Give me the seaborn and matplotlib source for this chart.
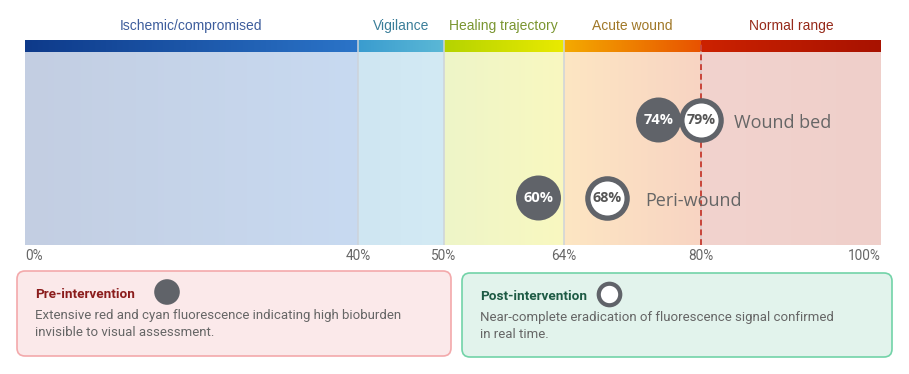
import numpy as np
import pandas as pd
import matplotlib
matplotlib.use("Agg")
import matplotlib.pyplot as plt
import matplotlib.transforms as mtransforms
from matplotlib.colors import to_rgb
from matplotlib.patches import FancyBboxPatch
import seaborn as sns

# --- data ---
zone_names = ["Ischemic/compromised", "Vigilance", "Healing trajectory", "Acute wound", "Normal range"]
zone_edges = [0, 40, 50, 64, 80, 100]
tick_values = [0, 40, 50, 64, 80, 100]
tick_labels = ["0%", "40%", "50%", "64%", "80%", "100%"]
regions = ["Wound bed", "Peri-wound"]
pre_values = [74, 60]
post_values = [79, 68]
threshold = 80

# --- style ---
bar_cols = [("#0e3a8a", "#2b74c8"), ("#3a9ccf", "#5bb8d6"), ("#b5d300", "#eaea00"),
            ("#f4aa00", "#e85200"), ("#cc2200", "#a81200")]
band_cols = [("#c3cee2", "#c8daf1"), ("#cfe6f2", "#d3eaf4"), ("#eef5c8", "#f9f8c0"),
             ("#fde6c2", "#f8d4c3"), ("#f2d3ce", "#efcfca")]
head_cols = ["#3d5d9c", "#3b7e99", "#7a9530", "#a07828", "#962a1a"]
grey = "#606369"
W, H = 909, 374

sns.set_theme(style="white")
plt.rcParams["font.family"] = ["Liberation Sans", "DejaVu Sans"]

fig = plt.figure(figsize=(W / 100, H / 100), dpi=100)

# overlay axes in pixel coords for the boxes
ov = fig.add_axes([0, 0, 1, 1], zorder=0)
ov.set_xlim(0, W)
ov.set_ylim(H, 0)
ov.axis("off")

# main axes: bar area from y=40 to 245 px, x from 25 to 881 px
ax = fig.add_axes([25 / W, (H - 245) / H, 856 / W, 205 / H], zorder=1)
ax.set_facecolor("none")
xmin, xmax = (25 - 15) / 8.575, (881 - 15) / 8.575
bar_bottom = (245 - 52) / 205


def gradient(c0, c1):
    a, b = np.array(to_rgb(c0)), np.array(to_rgb(c1))
    t = np.linspace(0, 1, 128)[:, None]
    return (a + (b - a) * t)[None, :, :]


for i in range(len(zone_names)):
    x0 = max(zone_edges[i], xmin)
    x1 = xmax if i == len(zone_names) - 1 else zone_edges[i + 1]
    ax.imshow(gradient(*band_cols[i]), extent=[x0, x1, 0, bar_bottom], aspect="auto",
              interpolation="bilinear", zorder=0)
    ax.imshow(gradient(*bar_cols[i]), extent=[x0, x1, bar_bottom, 1], aspect="auto",
              interpolation="bilinear", zorder=0)
    ax.text((x0 + x1) / 2, 1 + 14 / 205, zone_names[i], ha="center", va="center",
            fontsize=10, color=head_cols[i])

for e in zone_edges[1:-2]:
    ax.plot([e, e], [0, 1], color="#cdd3da", lw=1.1, zorder=1)
ax.plot([threshold, threshold], [0, bar_bottom], color="#d8c8c8", lw=1.2, zorder=1)
ax.plot([threshold, threshold], [0, 1], color="#c9453a", lw=1.4, ls=(0, (3, 2)), zorder=2)

ax.set_xlim(xmin, xmax)
ax.set_ylim(0, 1)
for s in ax.spines.values():
    s.set_visible(False)
ax.set_yticks([])
# end labels sit at the bar edges
tpos = list(tick_values)
tpos[0], tpos[-1] = xmin, xmax
ax.set_xticks(tpos)
ax.set_xticklabels(tick_labels, fontsize=9.8, color="#666666", family="Roboto")
ax.tick_params(axis="x", length=0, pad=3)
lbls = ax.get_xticklabels()
lbls[0].set_ha("left")
lbls[-1].set_ha("right")

# circles: shifted 9 px right of the band scale
shift = ax.transData + mtransforms.ScaledTranslation(0.09, 0, fig.dpi_scale_trans)
row_y = {"Wound bed": (245 - 120) / 205, "Peri-wound": (245 - 198) / 205}
df = pd.DataFrame({
    "region": regions * 2,
    "value": pre_values + post_values,
    "phase": ["Pre"] * len(regions) + ["Post"] * len(regions),
})
df["y"] = df["region"].map(row_y)

pre = df[df.phase == "Pre"]
post = df[df.phase == "Post"]
sns.scatterplot(data=pre, x="value", y="y", s=1050, color=grey, edgecolor="none",
                legend=False, ax=ax, zorder=3)
sns.scatterplot(data=post, x="value", y="y", s=800, color="white", edgecolor=grey,
                linewidth=3.8, legend=False, ax=ax, zorder=4)
for coll in ax.collections:
    coll.set_offset_transform(shift)
    coll.set_clip_on(False)
ax.set_xlabel("")
ax.set_ylabel("")

for _, r in pre.iterrows():
    ax.text(r.value, r.y, f"{r.value}%", transform=shift, ha="center", va="center",
            fontsize=10.5, fontweight="bold", color="white", family="Open Sans", zorder=5)
for _, r in post.iterrows():
    ax.text(r.value, r.y, f"{r.value}%", transform=shift, ha="center", va="center",
            fontsize=10.3, fontweight="bold", color="#555555", family="Open Sans", zorder=5)

label_gap = {"Wound bed": 42, "Peri-wound": 47}
for _, r in post.iterrows():
    ax.annotate(r.region, (r.value, r.y), xytext=(label_gap[r.region], -3),
                textcoords="offset pixels", ha="left", va="center", fontsize=13,
                color="#666666", family="Open Sans", zorder=5)

# --- bottom boxes ---
boxes = [
    dict(x=17, y=271, w=434, h=85, fc="#fbe9ea", ec="#f3a9ab", title="Pre-intervention",
         tcol="#8b1c1c", body=["Extensive red and cyan fluorescence indicating high bioburden",
                               "invisible to visual assessment."],
         cx=167, cy=292, filled=True),
    dict(x=462, y=273, w=430, h=84, fc="#e2f3ec", ec="#72d3a8", title="Post-intervention",
         tcol="#1d5a44", body=["Near-complete eradication of fluorescence signal confirmed",
                               "in real time."],
         cx=609, cy=294, filled=False),
]
for b in boxes:
    ov.add_patch(FancyBboxPatch((b["x"], b["y"]), b["w"], b["h"],
                                boxstyle="round,pad=0,rounding_size=8",
                                fc=b["fc"], ec=b["ec"], lw=1.2))
    ov.text(b["x"] + 18, b["y"] + 24, b["title"], fontsize=9.7, fontweight="bold",
            color=b["tcol"], family="Roboto", va="center")
    for k, line in enumerate(b["body"]):
        ov.text(b["x"] + 18, b["y"] + 44 + 18 * k, line, fontsize=9.5, color="#666666",
                family="Roboto", va="center")
    if b["filled"]:
        ov.scatter([b["cx"]], [b["cy"]], s=340, color=grey, edgecolor="none")
    else:
        ov.scatter([b["cx"]], [b["cy"]], s=240, color="white", edgecolor=grey, linewidth=3)

fig.savefig("out.png", dpi=100)
